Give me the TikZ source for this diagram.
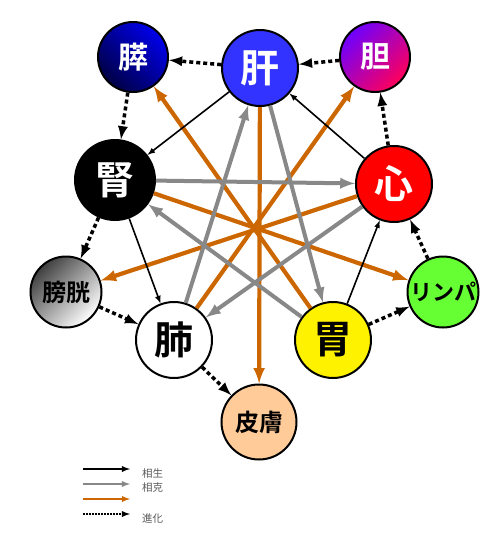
\documentclass[tikz,border=0pt]{standalone}
\usepackage{fontspec}
\newfontfamily\jpfont{Noto Sans CJK JP}[BoldFont={* Bold}]
\usetikzlibrary{shapes}

\definecolor{kancol}{RGB}{51,51,255}
\definecolor{suidark}{RGB}{0,0,70}
\definecolor{suilight}{RGB}{0,0,235}
\definecolor{tanviolet}{RGB}{110,0,255}
\definecolor{tanred}{RGB}{255,0,90}
\definecolor{orangecol}{RGB}{204,102,0}
\definecolor{graycol}{RGB}{136,136,136}
\definecolor{lymcol}{RGB}{102,255,51}
\definecolor{hifucol}{RGB}{255,204,153}

\begin{document}
\begin{tikzpicture}[x=1pt,y=-1pt]
\tikzstyle{every node}=[circle,draw,line width=2pt,inner sep=0pt]
\tikzstyle{big}=[minimum size=76pt,font=\jpfont\bfseries\fontsize{39}{39}\selectfont]
\tikzstyle{mid}=[minimum size=70pt,font=\jpfont\bfseries\fontsize{30}{30}\selectfont]
\tikzstyle{small}=[minimum size=71pt,font=\jpfont\bfseries\fontsize{24}{24}\selectfont]
\tikzstyle{sei}=[-latex,line width=1.6pt,black]
\tikzstyle{koku}=[-latex,line width=4pt,graycol]
\tikzstyle{orange}=[-latex,line width=4.2pt,orangecol]
\tikzstyle{shinka}=[-latex,line width=3.5pt,dash pattern=on 4pt off 3pt]
\tikzstyle{legendtext}=[rectangle,draw=none,anchor=west,text=black!65,font=\jpfont\fontsize{10.5}{10.5}\selectfont]

\useasboundingbox (0,0) rectangle (500,550);

\begin{scope}
\node (kan) at (260,68) [big,fill=kancol,text=white] {肝};
\node (sui) at (133,57) [mid,top color=suilight,bottom color=suidark,shading angle=-45,text=white] {膵};
\node (tan) at (375,57) [mid,top color=tanviolet,bottom color=tanred,shading angle=45,text=white] {胆};
\node (jin) at (115,180) [big,minimum size=80pt,fill=black,text=white] {腎};
\node (shin) at (394,184) [big,fill=red,text=white] {心};
\node (bou) at (66,292) [small,top color=black!75,bottom color=white,shading angle=45] {膀胱};
\node (hai) at (174,340) [big,fill=white] {肺};
\node (i) at (333,340) [big,fill=yellow] {胃};
\node (lym) at (443,292) [small,fill=lymcol,font=\jpfont\bfseries\fontsize{22}{22}\selectfont] {リンパ};
\node (hifu) at (259,422) [small,minimum size=75pt,fill=hifucol] {皮膚};

\draw[orange] (kan)--(hifu);
\draw[orange] (shin)--(bou);
\draw[orange] (jin)--(lym);
\draw[orange] (hai)--(tan);
\draw[orange] (i)--(sui);

\draw[koku] (jin)--(shin);
\draw[koku] (shin)--(hai);
\draw[koku] (hai)--(kan);
\draw[koku] (kan)--(i);
\draw[koku] (i)--(jin);

\draw[sei] (shin)--(kan);
\draw[sei] (kan)--(jin);
\draw[sei] (jin)--(hai);
\draw[sei] (i)--(shin);

\draw[shinka] (kan)--(sui);
\draw[shinka] (tan)--(kan);
\draw[shinka] (shin)--(tan);
\draw[shinka] (lym)--(shin);
\draw[shinka] (i)--(lym);
\draw[shinka] (hai)--(hifu);
\draw[shinka] (bou)--(hai);
\draw[shinka] (jin)--(bou);
\draw[shinka] (sui)--(jin);
\end{scope}

\begin{scope}
\coordinate (l1a) at (83,469); \coordinate (l1b) at (130,469);
\coordinate (l2a) at (83,484); \coordinate (l2b) at (130,484);
\coordinate (l3a) at (83,499); \coordinate (l3b) at (130,499);
\coordinate (l4a) at (83,514); \coordinate (l4b) at (130,514);
\draw[sei,line width=1.8pt] (l1a)--(l1b);
\draw[koku,line width=1.8pt] (l2a)--(l2b);
\draw[orange,line width=1.8pt] (l3a)--(l3b);
\draw[shinka,line width=1.8pt,dash pattern=on 2pt off 1pt] (l4a)--(l4b);
\node (sousei) at (141,473) [legendtext] {相生};
\node (soukoku) at (141,488) [legendtext] {相克};
\node (shinkatxt) at (141,519) [legendtext] {進化};
\end{scope}

\end{tikzpicture}
\end{document}
